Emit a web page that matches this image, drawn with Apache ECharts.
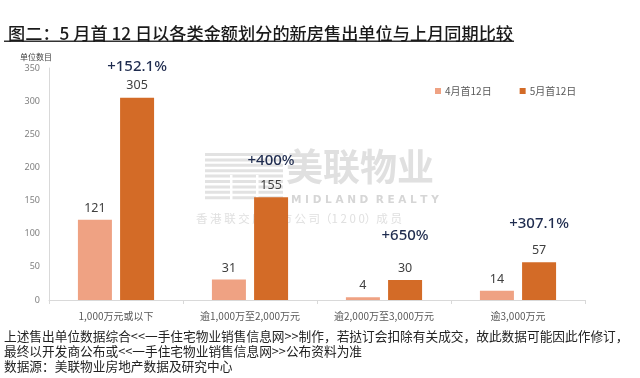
<!DOCTYPE html>
<html>
<head>
<meta charset="utf-8">
<script src="https://cdn.jsdelivr.net/npm/echarts@6/dist/echarts.min.js"></script>
<style>
html,body{margin:0;padding:0;background:#fff;}
#main{width:640px;height:378px;}
</style>
</head>
<body>
<div id="main"></div>
<script>
// ---- data ----
var categories = ['1,000万元或以下', '逾1,000万至2,000万元', '逾2,000万至3,000万元', '逾3,000万元'];
var seriesNames = ['4月首12日', '5月首12日'];
var aprilValues = [121, 31, 4, 14];
var mayValues = [305, 155, 30, 57];
var changeLabels = ['+152.1%', '+400%', '+650%', '+307.1%'];
var yTicks = [0, 50, 100, 150, 200, 250, 300, 350];

// ---- styling ----
var pctLineHeights = [24, 36, 50, 38];
var aprilColor = '#EFA283';
var mayColor = '#D36B27';

var chart = echarts.init(document.getElementById('main'), null, {renderer: 'canvas'});

var mayData = mayValues.map(function (v, i) {
  return {
    value: v,
    label: {
      formatter: '{p|' + changeLabels[i] + '}\n{v|' + v + '}',
      rich: {
        p: {fontSize: 15, color: '#1F2C4F', fontFamily: 'Noto Sans', lineHeight: pctLineHeights[i], fontWeight: 500},
        v: {fontSize: 12.5, color: '#404040', fontFamily: 'Noto Sans', lineHeight: 14}
      }
    }
  };
});

// watermark stripes logo (decoration)
var stripes = [];
for (var r = 0; r < 9; r++) {
  var y = 153 + r * 5.4;
  stripes.push({type: 'rect', shape: {x: 205, y: y, width: 78, height: 3}, style: {fill: '#e2e2e2'}, z: 0, silent: true});
}
stripes.push({type: 'rect', shape: {x: 230, y: 175, width: 2.5, height: 30}, style: {fill: '#fff'}, z: 0, silent: true});
stripes.push({type: 'rect', shape: {x: 256, y: 175, width: 2.5, height: 30}, style: {fill: '#fff'}, z: 0, silent: true});

var option = {
  backgroundColor: '#ffffff',
  animation: false,
  title: {
    text: '图二：5 月首 12 日以各类金额划分的新房售出单位与上月同期比较',
    left: 3, top: 20,
    textStyle: {fontSize: 17.2, fontWeight: 500, color: '#1a1a1a', fontFamily: 'Noto Sans CJK SC'}
  },
  legend: {
    data: seriesNames,
    left: 430, top: 81,
    itemWidth: 6, itemHeight: 6, itemGap: 28,
    icon: 'rect',
    textStyle: {fontSize: 10, color: '#595959', fontFamily: 'Noto Sans CJK SC', padding: [0, 0, 0, -1]}
  },
  grid: {left: 49, right: 55, top: 68, bottom: 78, containLabel: false},
  xAxis: {
    type: 'category',
    data: categories,
    axisLine: {lineStyle: {color: '#d9d9d9'}},
    axisTick: {show: true, length: 4, lineStyle: {color: '#d9d9d9'}},
    axisLabel: {fontSize: 10, color: '#595959', margin: 11, fontFamily: 'Noto Sans CJK SC'}
  },
  yAxis: {
    type: 'value',
    min: yTicks[0], max: yTicks[yTicks.length - 1], interval: yTicks[1] - yTicks[0],
    name: '单位数目',
    nameLocation: 'end',
    nameGap: 7,
    nameTextStyle: {fontSize: 8, color: '#404040', fontFamily: 'Noto Sans CJK SC', align: 'center', padding: [0, 0, 0, -26]},
    axisLine: {show: true, lineStyle: {color: '#d9d9d9'}},
    axisTick: {show: false},
    splitLine: {show: false},
    axisLabel: {fontSize: 9, color: '#808080', margin: 9, fontFamily: 'Noto Sans'}
  },
  series: [
    {
      name: seriesNames[0], type: 'bar', data: aprilValues,
      barWidth: 34, barGap: '24%',
      itemStyle: {color: aprilColor},
      z: 3,
      label: {show: true, position: 'top', distance: 5, fontSize: 12.5, color: '#404040', fontFamily: 'Noto Sans'}
    },
    {
      name: seriesNames[1], type: 'bar', data: mayData,
      barWidth: 34,
      itemStyle: {color: mayColor},
      z: 3,
      label: {show: true, position: 'top', distance: 5, align: 'center'}
    }
  ],
  graphic: [
    {type: 'rect', shape: {x: 4, y: 40.5, width: 510, height: 1.5}, style: {fill: '#333'}, silent: true},
    {type: 'group', children: stripes, silent: true, z: 0},
    {type: 'text', left: 286, top: 148, z: 0, silent: true,
      style: {text: '美联物业', fontSize: 37, fontWeight: 'bold', fill: '#e0e0e0', fontFamily: 'Noto Sans CJK SC'}},
    {type: 'text', left: 291, top: 195, z: 0, silent: true,
      style: {text: 'M I D L A N D  R E A L T Y', fontSize: 10.5, fontWeight: 'bold', fill: '#d6d6d6', fontFamily: 'DejaVu Sans'}},
    {type: 'text', left: 196, top: 213, z: 0, silent: true,
      style: {text: '香 港 联 交 所 上 市 公 司（1 2 0 0）成 员', fontSize: 11.5, fill: '#e0e0e0', fontFamily: 'Noto Sans CJK SC'}},
    {type: 'text', left: 4, top: 330, silent: true,
      style: {text: '上述售出单位数据综合<<一手住宅物业销售信息网>>制作，若挞订会扣除有关成交，故此数据可能因此作修订，', fontSize: 12.7, fill: '#222', fontFamily: 'Noto Sans CJK SC'}},
    {type: 'text', left: 4, top: 345, silent: true,
      style: {text: '最终以开发商公布或<<一手住宅物业销售信息网>>公布资料为准', fontSize: 12.7, fill: '#222', fontFamily: 'Noto Sans CJK SC'}},
    {type: 'text', left: 4, top: 360, silent: true,
      style: {text: '数据源：美联物业房地产数据及研究中心', fontSize: 12.7, fill: '#222', fontFamily: 'Noto Sans CJK SC'}}
  ]
};
chart.setOption(option);
</script>
</body>
</html>
